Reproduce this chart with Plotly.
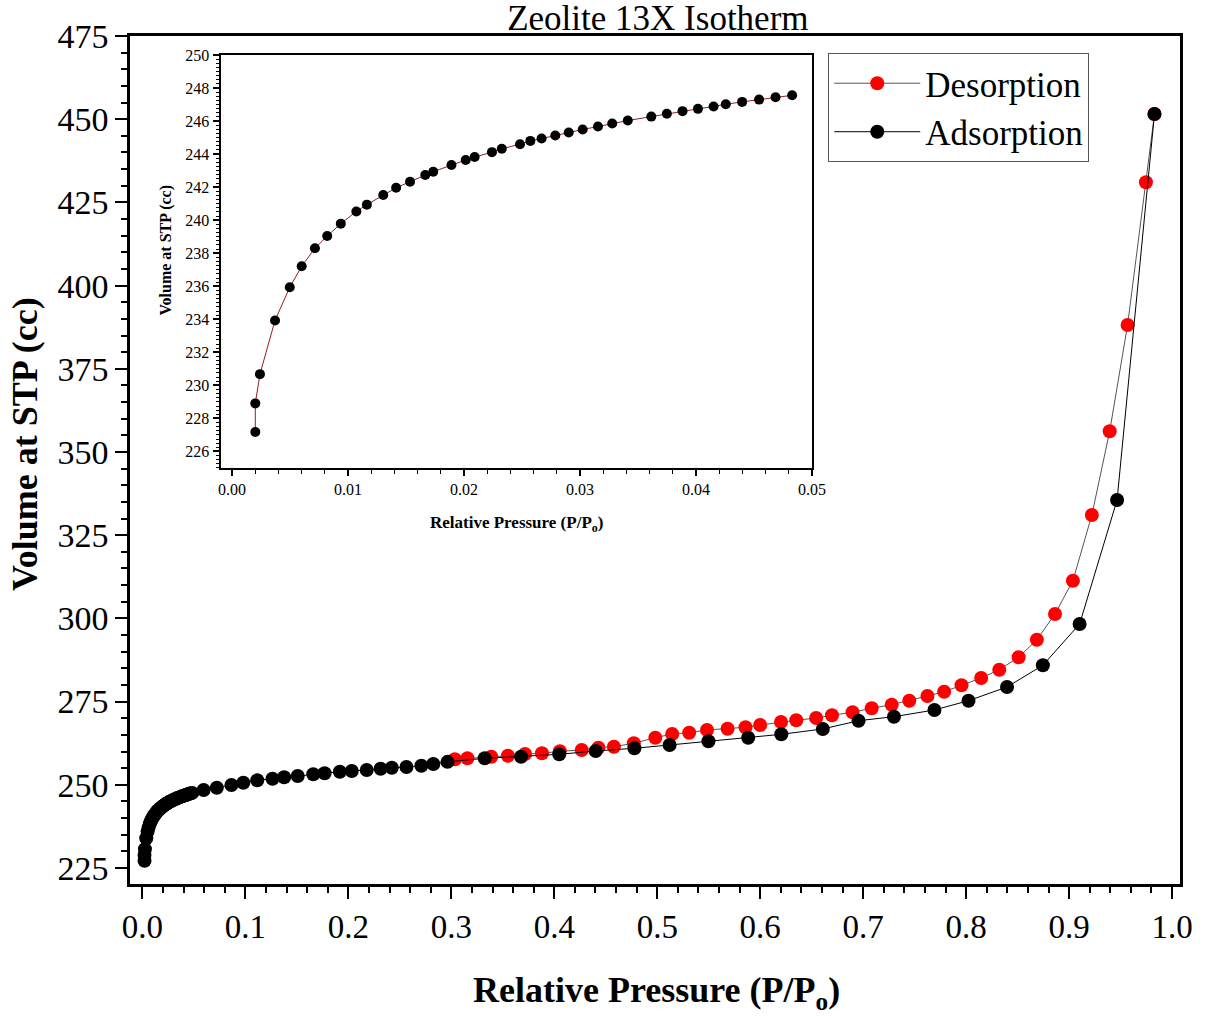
import plotly.graph_objects as go

# Adsorption branch: relative pressure (P/Po) and uptake (cc STP)
ads_p = [0.0020, 0.0020, 0.0024, 0.0037, 0.00497, 0.0060, 0.00714, 0.0082, 0.00937,
         0.01071, 0.01162, 0.01303, 0.01414, 0.01534, 0.01665, 0.01734, 0.01891,
         0.02014, 0.02091, 0.0224, 0.02325, 0.02482, 0.02571, 0.02668, 0.02786,
         0.02902, 0.03022, 0.03154, 0.03277, 0.03411, 0.03614, 0.03748, 0.03883,
         0.04016, 0.04151, 0.04256, 0.04397, 0.04543, 0.04685, 0.04828,
         0.0594, 0.0722, 0.0864, 0.0980, 0.1115, 0.1263, 0.1376, 0.1508, 0.1659,
         0.1769, 0.1917, 0.2033, 0.2178, 0.2313, 0.2422, 0.2564, 0.2709, 0.2825,
         0.2963, 0.3324, 0.3677, 0.4048, 0.4402, 0.4778, 0.5120, 0.5497, 0.5883,
         0.6205, 0.6608, 0.6955, 0.7299, 0.7692, 0.8023, 0.8397, 0.8745, 0.9102,
         0.9466, 0.9829]
ads_v = [227.18, 228.91, 230.68, 233.93, 235.94, 237.21, 238.30, 239.04, 239.79,
         240.53, 240.94, 241.52, 241.96, 242.33, 242.73, 242.93, 243.34,
         243.64, 243.82, 244.12, 244.32, 244.60, 244.80, 244.94, 245.13,
         245.31, 245.49, 245.67, 245.85, 246.03, 246.27, 246.44, 246.60,
         246.74, 246.88, 247.02, 247.16, 247.30, 247.44, 247.56,
         248.44, 249.10, 249.94, 250.63, 251.35, 251.83, 252.25, 252.64, 253.15,
         253.46, 253.94, 254.15, 254.45, 254.84, 255.14, 255.35, 255.74, 256.25,
         256.90, 257.96, 258.44, 259.16, 260.16, 260.97, 261.96, 263.07, 264.15,
         265.17, 266.77, 269.26, 270.46, 272.48, 275.27, 279.39, 285.91, 298.32,
         335.58, 451.56]

# Desorption branch (listed from high to low pressure)
des_p = [0.9829, 0.9746, 0.9568, 0.9394, 0.9221, 0.9037, 0.8863, 0.8687, 0.8510,
         0.8322, 0.8146, 0.7955, 0.7786, 0.7624, 0.7448, 0.7277, 0.7083, 0.6897,
         0.6697, 0.6543, 0.6350, 0.6202, 0.5999, 0.5857, 0.5683, 0.5483, 0.5310,
         0.5145, 0.4981, 0.4772, 0.4579, 0.4428, 0.4266, 0.4054, 0.3880, 0.3716,
         0.3549, 0.3388, 0.3156, 0.3034]
des_v = [451.56, 431.04, 388.16, 356.22, 331.07, 311.33, 301.32, 293.60, 288.31,
         284.58, 282.09, 279.90, 277.97, 276.68, 275.27, 274.07, 272.99, 271.79,
         270.89, 270.07, 269.38, 268.87, 267.97, 267.28, 266.86, 266.47, 265.66,
         265.26, 264.15, 262.47, 261.45, 261.15, 260.46, 260.06, 259.46, 259.25,
         258.74, 258.44, 257.96, 257.66]

# Low-pressure region shown in the inset
inset_p = [p for p in ads_p if p <= 0.05]
inset_v = [v for p, v in zip(ads_p, ads_v) if p <= 0.05]

FONT = "Liberation Serif"

fig = go.Figure()

fig.add_trace(go.Scatter(
    x=des_p, y=des_v, mode="lines+markers", name="Desorption",
    line=dict(color="#555555", width=1),
    marker=dict(color="#ff0000", size=14),
))
fig.add_trace(go.Scatter(
    x=ads_p, y=ads_v, mode="lines+markers", name="Adsorption",
    line=dict(color="#000000", width=1),
    marker=dict(color="#000000", size=14),
))
fig.add_trace(go.Scatter(
    x=inset_p, y=inset_v, mode="lines+markers", showlegend=False,
    xaxis="x2", yaxis="y2",
    line=dict(color="#9b1c1c", width=1),
    marker=dict(color="#000000", size=10),
))

axis_common = dict(
    showgrid=False, zeroline=False, showline=True, linecolor="black",
    mirror=True, ticks="outside", tickcolor="black",
)

fig.update_layout(
    width=1206, height=1016,
    margin=dict(l=130, r=20, t=36, b=132),
    paper_bgcolor="white", plot_bgcolor="white",
    font=dict(family=FONT, color="black"),
    title=dict(text="Zeolite 13X Isotherm", x=0.5455, xanchor="center",
               y=0.983, yanchor="middle", font=dict(size=35, family=FONT)),
    xaxis=dict(
        **axis_common, range=[-0.0121, 1.0077], tick0=0, dtick=0.1,
        tickformat=".1f", linewidth=2.5, ticklen=12, tickwidth=2,
        tickfont=dict(size=33, family=FONT),
        minor=dict(ticks="outside", dtick=0.02, ticklen=6, tickwidth=1.5,
                   tickcolor="black"),
    ),
    yaxis=dict(
        **axis_common, range=[220.19, 475], tick0=225, dtick=25,
        linewidth=2.5, ticklen=12, tickwidth=2,
        tickfont=dict(size=34, family=FONT),
        minor=dict(ticks="outside", dtick=5, ticklen=6, tickwidth=1.5,
                   tickcolor="black"),
    ),
    xaxis2=dict(
        **axis_common, domain=[0.0862, 0.6496], anchor="y2",
        range=[-0.001, 0.05], tick0=0, dtick=0.01, tickformat=".2f",
        linewidth=2, ticklen=6, tickwidth=1.5,
        tickfont=dict(size=16, family=FONT),
        minor=dict(ticks="outside", dtick=0.002, ticklen=4, tickwidth=1,
                   tickcolor="black"),
    ),
    yaxis2=dict(
        **axis_common, domain=[0.4906, 0.9776], anchor="x2",
        range=[225, 250], tick0=226, dtick=2,
        linewidth=2, ticklen=6, tickwidth=1.5,
        tickfont=dict(size=16, family=FONT),
        minor=dict(ticks="outside", dtick=0.25, ticklen=3, tickwidth=1,
                   tickcolor="black"),
    ),
    legend=dict(
        x=0.665, y=0.98, xanchor="left", yanchor="top",
        bgcolor="white", bordercolor="#555555", borderwidth=1,
        font=dict(size=35, family=FONT), tracegroupgap=0,
        itemwidth=86,
    ),
    annotations=[
        dict(text="<b>Relative Pressure (P/P<sub>o</sub>)</b>", xref="paper", yref="paper",
             x=0.501, y=-0.128, xanchor="center", yanchor="middle", showarrow=False,
             font=dict(size=36, family=FONT)),
        dict(text="<b>Volume at STP (cc)</b>", xref="paper", yref="paper",
             x=-0.1, y=0.519, xanchor="center", yanchor="middle", showarrow=False,
             textangle=-90, font=dict(size=36, family=FONT)),
        dict(text="<b>Relative Pressure (P/P<sub>o</sub>)</b>", xref="paper", yref="paper",
             x=0.3684, y=0.4248, xanchor="center", yanchor="middle", showarrow=False,
             font=dict(size=17, family=FONT)),
        dict(text="<b>Volume at STP (cc)</b>", xref="paper", yref="paper",
             x=0.0341, y=0.748, xanchor="center", yanchor="middle", showarrow=False,
             textangle=-90, font=dict(size=16, family=FONT)),
    ],
)

fig.write_html("out.html")
